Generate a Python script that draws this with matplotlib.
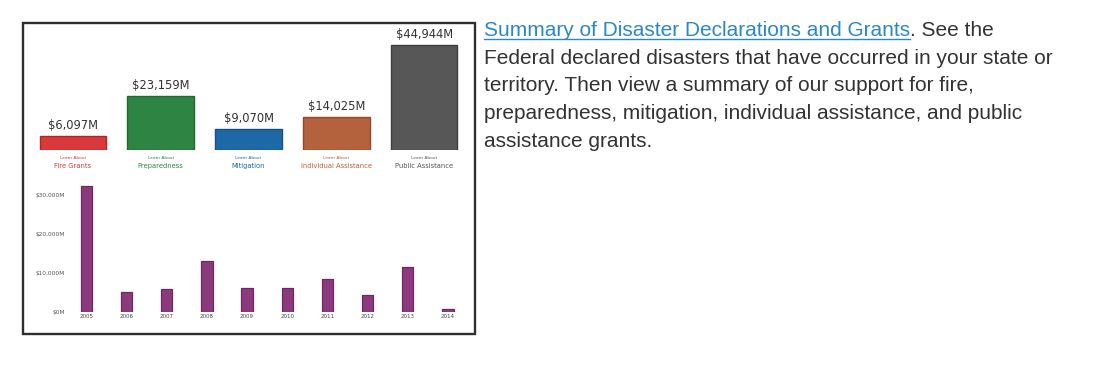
import matplotlib
matplotlib.use("Agg")
import matplotlib.pyplot as plt
from matplotlib.patches import Rectangle
from matplotlib.lines import Line2D

# ---- data ----
categories = ["Fire Grants", "Preparedness", "Mitigation", "Individual Assistance", "Public Assistance"]
category_values = [6097, 23159, 9070, 14025, 44944]          # $M
value_labels = ["$6,097M", "$23,159M", "$9,070M", "$14,025M", "$44,944M"]
category_colors = ["#d8393a", "#2e8442", "#1f68a6", "#b4613d", "#575757"]
category_edges = ["#b52326", "#1f6a31", "#15508a", "#94472a", "#3e3e3e"]

years = ["2005", "2006", "2007", "2008", "2009", "2010", "2011", "2012", "2013", "2014"]
year_values = [32300, 5100, 5900, 13100, 6200, 6200, 8500, 4400, 11600, 700]   # $M
ytick_values = [0, 10000, 20000, 30000]
ytick_labels = ["$0M", "$10,000M", "$20,000M", "$30,000M"]

W, H = 1100, 384
fig = plt.figure(figsize=(W / 100, H / 100), dpi=100)
fig.patch.set_facecolor("white")


def fx(px):
    return px / W


def fy(py):
    return 1 - py / H


def add_axes_px(left, top, right, bottom):
    return fig.add_axes([fx(left), fy(bottom), fx(right) - fx(left), fy(top) - fy(bottom)])


# border box
fig.add_artist(Rectangle((fx(23), fy(334)), fx(475) - fx(23), fy(23) - fy(334),
                         transform=fig.transFigure, fill=False, edgecolor="#2e2e2e",
                         linewidth=1.7))

# ---- top category bars ----
ax1 = add_axes_px(29, 30, 468, 150)
x1 = list(range(len(categories)))
ax1.bar(x1, category_values, width=0.76, color=category_colors,
        edgecolor=category_edges, linewidth=1.0)
ax1.set_xlim(-0.5, len(categories) - 0.5)
ax1.set_ylim(0, 44944 * 120 / 105)
ax1.axis("off")
for xi, v, lab in zip(x1, category_values, value_labels):
    ax1.annotate(lab, (xi, v), xytext=(0, 3), textcoords="offset points",
                 ha="center", va="bottom", fontsize=8.3, color="#333333",
                 family="DejaVu Sans")
for xi, name, col in zip(x1, categories, category_colors):
    ax1.annotate("Learn About", (xi, 0), xytext=(0, -6), textcoords="offset points",
                 ha="center", va="center", fontsize=3.2, color=col)
    ax1.annotate(name, (xi, 0), xytext=(0, -11.5), textcoords="offset points",
                 ha="center", va="center", fontsize=4.9, color=col)

# ---- bottom yearly bars ----
ax2 = add_axes_px(66.4, 180, 468, 312)
x2 = list(range(len(years)))
ax2.bar(x2, year_values, width=0.28, color="#8c3a7e", edgecolor="#6e2862", linewidth=0.9)
ax2.set_xlim(-0.5, len(years) - 0.5)
ax2.set_ylim(0, 132 / 39 * 10000)
for s in ax2.spines.values():
    s.set_visible(False)
ax2.set_yticks(ytick_values)
ax2.set_yticklabels(ytick_labels, fontsize=4.2, color="#555555")
ax2.set_xticks(x2)
ax2.set_xticklabels(years, fontsize=4.0, color="#444444")
ax2.tick_params(axis="both", length=0, pad=1.5)
ax2.tick_params(axis="y", pad=1.0)

# ---- right-hand text ----
tx = 484
fs = 15.0
link = "Summary of Disaster Declarations and Grants"
t_link = fig.text(fx(tx), fy(36), link, fontsize=fs, color="#2b88c6",
                  family="Liberation Sans", va="baseline", ha="left")
fig.canvas.draw()
bb = t_link.get_window_extent()
fig.add_artist(Line2D([bb.x0 / W, bb.x1 / W], [fy(39), fy(39)],
                      transform=fig.transFigure, color="#2b88c6", linewidth=1.0))
fig.text(bb.x1 / W, fy(36), ". See the", fontsize=fs, color="#333333",
         family="Liberation Sans", va="baseline", ha="left")
lines = [
    "Federal declared disasters that have occurred in your state or",
    "territory. Then view a summary of our support for fire,",
    "preparedness, mitigation, individual assistance, and public",
    "assistance grants.",
]
for i, ln in enumerate(lines):
    fig.text(fx(tx), fy(36 + 27.7 * (i + 1)), ln, fontsize=fs, color="#333333",
             family="Liberation Sans", va="baseline", ha="left")

fig.savefig("out.png", dpi=100, facecolor="white")
